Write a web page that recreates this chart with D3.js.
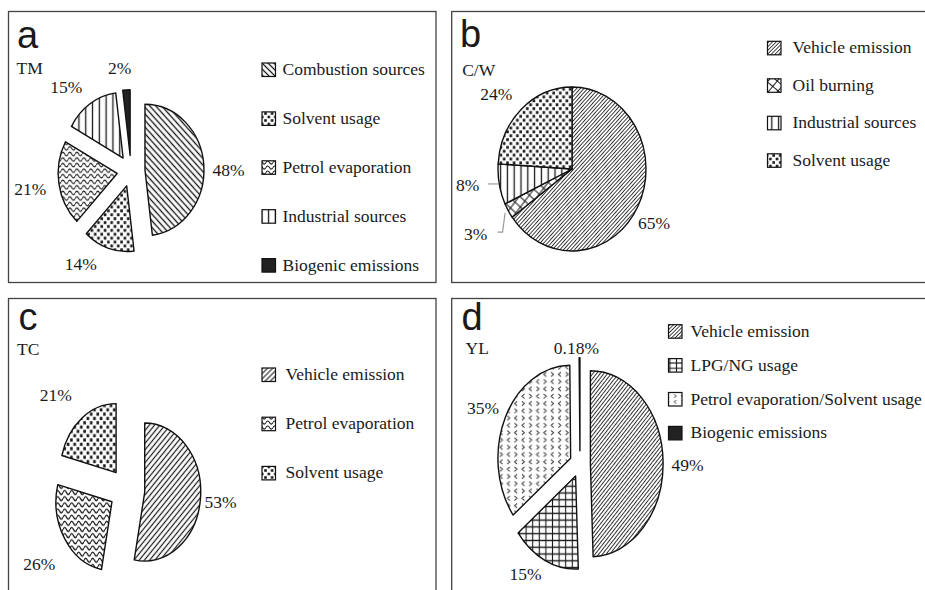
<!DOCTYPE html>
<html>
<head>
<meta charset="utf-8">
<script src="https://cdn.jsdelivr.net/npm/d3@7"></script>
<style>
  html, body { margin: 0; padding: 0; background: #fff; }
  svg { display: block; }
  .serif { font-family: "Liberation Serif", "Times New Roman", serif; font-size: 17.5px; fill: #1a1a1a; }
  .tag { font-family: "Liberation Sans", Arial, sans-serif; font-size: 38px; fill: #1a1a1a; }
</style>
</head>
<body>
<svg id="chart" width="925" height="590"></svg>
<script>
// Panel tags and monitoring sites
const panelTags = ["a", "b", "c", "d"];
const siteCodes = ["TM", "C/W", "TC", "YL"];

// TM: source apportionment (%)
const tmSources = ["Combustion sources", "Solvent usage", "Petrol evaporation", "Industrial sources", "Biogenic emissions"];
const tmShares = [48, 14, 21, 15, 2];

// C/W
const cwSources = ["Vehicle emission", "Oil burning", "Industrial sources", "Solvent usage"];
const cwShares = [65, 3, 8, 24];

// TC
const tcSources = ["Vehicle emission", "Petrol evaporation", "Solvent usage"];
const tcShares = [53, 26, 21];

// YL
const ylSources = ["Vehicle emission", "LPG/NG usage", "Petrol evaporation/Solvent usage", "Biogenic emissions"];
const ylShares = [49, 15, 35, 0.18];

const ink = "#1a1a1a";
const svg = d3.select("#chart");
const defs = svg.append("defs");

// ---- fill patterns ----
function pattern(id, w, h, rot, draw) {
  const p = defs.append("pattern")
    .attr("id", id)
    .attr("patternUnits", "userSpaceOnUse")
    .attr("width", w).attr("height", h);
  if (rot) p.attr("patternTransform", `rotate(${rot})`);
  p.append("rect").attr("width", w).attr("height", h).attr("fill", "#fff");
  draw(p, w, h);
}
function vline(p, w, h, sw) {
  p.append("line").attr("x1", w / 2).attr("x2", w / 2).attr("y1", 0).attr("y2", h)
    .attr("stroke", ink).attr("stroke-width", sw);
}
pattern("hatchBack", 4.2, 4.2, -45, (p, w, h) => vline(p, w, h, 1.3));
pattern("hatchFwd", 3.7, 3.7, 45, (p, w, h) => vline(p, w, h, 1.1));
pattern("hatchFwdFine", 2.6, 2.6, 45, (p, w, h) => vline(p, w, h, 0.8));
pattern("vlines", 6.8, 10, 0, (p, w, h) => vline(p, w, h, 1.3));
pattern("waves", 7, 5, 0, (p, w, h) => {
  p.append("path")
    .attr("d", "M0,2.5 C1.2,0.4 2.3,0.4 3.5,2.5 S5.8,4.6 7,2.5")
    .attr("fill", "none").attr("stroke", ink).attr("stroke-width", 1.1);
});
pattern("dots", 6.6, 7, 0, (p) => {
  p.append("rect").attr("x", 0.2).attr("y", 0.2).attr("width", 2.6).attr("height", 2.6).attr("fill", ink);
  p.append("rect").attr("x", 3.5).attr("y", 3.7).attr("width", 2.6).attr("height", 2.6).attr("fill", ink);
});
pattern("crossDiag", 7, 7, 40, (p, w, h) => {
  vline(p, w, h, 1);
  p.append("line").attr("x1", 0).attr("x2", w).attr("y1", h / 2).attr("y2", h / 2)
    .attr("stroke", ink).attr("stroke-width", 1);
});
pattern("grid", 6.6, 5.3, 0, (p, w, h) => {
  vline(p, w, h, 1.1);
  p.append("line").attr("x1", 0).attr("x2", w).attr("y1", h / 2).attr("y2", h / 2)
    .attr("stroke", ink).attr("stroke-width", 1.1);
});
pattern("chevrons", 14.6, 11.4, 0, (p) => {
  const lt = (x, y) => `M${x + 1.3},${y - 1.7} L${x - 1.3},${y} L${x + 1.3},${y + 1.7}`;
  const gt = (x, y) => `M${x - 1.3},${y - 1.7} L${x + 1.3},${y} L${x - 1.3},${y + 1.7}`;
  p.append("path")
    .attr("d", [lt(3.6, 2.85), gt(10.9, 2.85), gt(3.6, 8.55), lt(10.9, 8.55)].join(" "))
    .attr("fill", "none").attr("stroke", "#333").attr("stroke-width", 0.8);
});
const solid = "#222";

// ---- panel layout ----
const panels = [
  {
    sources: tmSources, shares: tmShares,
    fills: ["url(#hatchBack)", "url(#dots)", "url(#waves)", "url(#vlines)", solid],
    box: [8.5, 11.5, 427.5, 271], tagAt: [17, 47.5], siteAt: [16.5, 74],
    cx: 131, cy: 171, rx: 59, ry: 65.7, explode: 14,
    nudges: [[13, 5], [-24, 3], [-17, 3], [-17, -6], [-6, -9]],
    legend: { sx: 262, tx: 282.5, y0: 75, step: 48.9 }, leaders: {}
  },
  {
    sources: cwSources, shares: cwShares,
    fills: ["url(#hatchFwdFine)", "url(#crossDiag)", "url(#vlines)", "url(#dots)"],
    box: [451.7, 11.5, 500, 271], tagAt: [460, 47], siteAt: [462.2, 76],
    cx: 572, cy: 169, rx: 74, ry: 82, explode: 0,
    nudges: [[3, 10], [-20, 15], [-17, -2], [-15, -3]],
    legend: { sx: 767.5, tx: 792.5, y0: 53.3, step: 37.5 }, leaders: { 1: "elbow", 2: "straight" }
  },
  {
    sources: tcSources, shares: tcShares,
    fills: ["url(#hatchFwd)", "url(#waves)", "url(#dots)"],
    box: [8.5, 298.5, 427.5, 400], tagAt: [18.5, 330], siteAt: [17, 355],
    cx: 127, cy: 490, rx: 56, ry: 69, explode: 17.8,
    nudges: [[9, 2], [-16, 18], [-19, -12]],
    legend: { sx: 262, tx: 285.5, y0: 380, step: 49.2 }, leaders: {}
  },
  {
    sources: ylSources, shares: ylShares,
    fills: ["url(#hatchFwdFine)", "url(#grid)", "url(#chevrons)", solid],
    box: [451.7, 298.5, 500, 400], tagAt: [461.5, 330], siteAt: [465.5, 354],
    cx: 580, cy: 464, rx: 72.7, ry: 93, explode: 10.4,
    nudges: [[10, 4], [-13, -3], [-9, -1], [-3, 9]],
    legend: { sx: 668.5, tx: 690.5, y0: 336.7, step: 33.9 }, leaders: {}
  }
];

const pie = d3.pie().sort(null).value(d => d);

panels.forEach((P, i) => {
  const g = svg.append("g");

  // frame
  g.append("rect")
    .attr("x", P.box[0]).attr("y", P.box[1])
    .attr("width", P.box[2]).attr("height", P.box[3])
    .attr("fill", "none").attr("stroke", "#444").attr("stroke-width", 1.3);

  g.append("text").attr("class", "tag").attr("x", P.tagAt[0]).attr("y", P.tagAt[1]).text(panelTags[i]);
  g.append("text").attr("class", "serif").attr("x", P.siteAt[0]).attr("y", P.siteAt[1]).text(siteCodes[i]);

  // pie (drawn as a circle, stretched vertically into an ellipse)
  const sy = P.ry / P.rx;
  const arc = d3.arc().innerRadius(0).outerRadius(P.rx);
  const arcs = pie(P.shares);
  const pg = g.append("g").attr("transform", `translate(${P.cx},${P.cy}) scale(1,${sy})`);
  pg.selectAll("path")
    .data(arcs)
    .join("path")
    .attr("transform", d => {
      const m = (d.startAngle + d.endAngle) / 2;
      return `translate(${P.explode * Math.sin(m)},${-P.explode * Math.cos(m)})`;
    })
    .attr("d", arc)
    .attr("fill", (d, k) => P.fills[k])
    .attr("stroke", "#111")
    .attr("stroke-width", 1.4)
    .attr("stroke-linejoin", "round")
    .attr("vector-effect", "non-scaling-stroke");

  // value labels
  arcs.forEach((d, k) => {
    const m = (d.startAngle + d.endAngle) / 2;
    const R = P.explode + 1.2 * P.rx;
    const lx = P.cx + R * Math.sin(m) + P.nudges[k][0];
    const ly = P.cy - R * Math.cos(m) * sy + P.nudges[k][1];
    g.append("text").attr("class", "serif")
      .attr("x", lx).attr("y", ly).attr("dy", "0.33em")
      .attr("text-anchor", "middle")
      .text(`${d.data}%`);

    const kind = P.leaders[k];
    if (kind) {
      const ex = P.cx + P.rx * Math.sin(m), ey = P.cy - P.ry * Math.cos(m);
      let pts;
      if (kind === "straight") {
        pts = [[lx + 20, ly - 1.5], [ex - 1, ly - 1.5]];
      } else {
        pts = [[lx + 22, ly - 2], [lx + 27, ly - 2],
               [P.cx + 1.05 * P.rx * Math.sin(m), P.cy - 1.05 * P.ry * Math.cos(m)]];
      }
      g.append("path").attr("d", d3.line()(pts))
        .attr("fill", "none").attr("stroke", "#9a9a9a").attr("stroke-width", 1.2);
    }
  });

  // legend
  const L = P.legend;
  P.sources.forEach((s, k) => {
    const by = L.y0 + k * L.step;
    g.append("rect")
      .attr("x", L.sx).attr("y", by - 12)
      .attr("width", 13.5).attr("height", 13.5)
      .attr("fill", P.fills[k]).attr("stroke", "#111").attr("stroke-width", 1.2);
    g.append("text").attr("class", "serif").attr("x", L.tx).attr("y", by).text(s);
  });
});
</script>
</body>
</html>
